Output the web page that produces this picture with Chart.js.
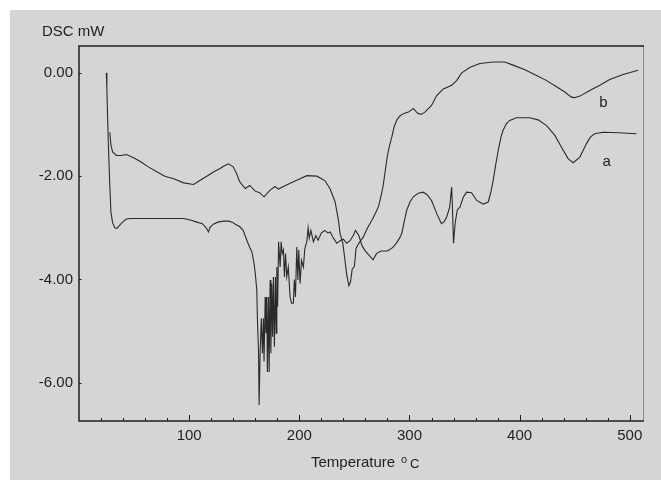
<!DOCTYPE html>
<html>
<head>
<meta charset="utf-8">
<script src="https://cdn.jsdelivr.net/npm/chart.js@4.4.1/dist/chart.umd.min.js"></script>
<style>
  html, body { margin: 0; padding: 0; background: #fff; }
  canvas { display: block; }
</style>
</head>
<body>
<canvas id="dsc" width="661" height="480"></canvas>
<script>
// curve a (lower at the right end)
const tempA = [24.8, 25.3, 26.0, 27.0, 28.0, 29.0, 30.5, 32.5, 34.5, 37.0, 40.0, 43.0, 47.0, 55.0, 65.0, 75.0, 85.0, 95.0,
  101.0, 107.0, 112.0, 115.5, 117.5, 119.0, 122.0, 126.0, 131.0, 136.0, 139.0, 142.0, 146.0, 149.0, 152.0, 155.0, 157.0,
  159.0, 160.0, 161.4, 162.0, 163.0, 163.5, 164.4, 165.5, 166.5, 167.4, 168.0, 169.0, 169.7, 170.5, 171.0, 172.0, 172.6,
  173.5, 174.2, 175.0, 175.8, 176.5, 177.4, 178.3, 179.0, 179.6, 180.3, 181.2, 182.6, 183.5, 184.5, 185.6, 186.5, 187.5,
  188.6, 190.0, 191.6, 193.0, 194.6, 195.5, 196.5, 197.7, 198.7, 199.5, 200.7, 202.0, 203.7, 205.0, 206.8, 208.0, 209.0,
  210.5, 212.8, 215.0, 217.0, 220.0,
  223.0, 226.0, 228.0, 231.0, 234.0, 237.0, 240.0, 243.0, 246.0, 249.0, 251.0, 254.0, 257.0, 260.0, 264.0, 267.0, 270.0,
  274.0, 280.0, 285.0, 288.0, 291.0, 293.0, 295.5, 297.5, 300.5, 303.5, 308.0, 312.5, 316.0, 320.0, 324.7, 329.0, 331.5,
  333.8, 336.5, 338.3, 339.0, 340.0, 341.5, 343.5, 345.8, 349.0, 351.9, 356.4, 361.0, 367.0, 371.5, 374.0, 376.0, 378.5,
  380.6, 383.0, 385.0, 388.0, 391.0, 397.0, 409.0, 416.8, 424.5, 432.0, 438.0, 444.0, 448.6, 454.7, 460.7, 464.0, 468.0,
  475.8, 490.0, 506.0];
const dscA = [0.0, -0.3, -0.9, -1.6, -2.2, -2.7, -2.9, -3.0, -3.01, -2.95, -2.88, -2.83, -2.82, -2.82, -2.82, -2.82, -2.82, -2.82,
  -2.85, -2.89, -2.92, -3.0, -3.08, -2.99, -2.93, -2.89, -2.87, -2.87, -2.89, -2.93, -2.98, -3.05, -3.22, -3.38, -3.47,
  -3.7, -3.88, -4.2, -4.8, -5.4, -6.43, -5.43, -4.75, -5.43, -4.75, -5.59, -4.34, -5.04, -4.34, -5.79, -4.34, -5.79,
  -4.01, -5.43, -4.08, -5.11, -3.95, -5.3, -3.95, -5.04, -3.76, -4.53, -3.27, -3.76, -3.27, -3.5, -3.43, -3.95, -3.5,
  -3.95, -3.76, -4.34, -4.46, -4.46, -4.0, -4.34, -3.37, -4.01, -3.43, -4.08, -3.63, -3.76, -3.4, -3.27, -3.0, -3.2,
  -3.05, -3.27, -3.15, -3.24, -3.1,
  -3.05, -3.1, -3.08, -3.2, -3.3, -3.25, -3.22, -3.3, -3.25, -3.15, -3.05, -3.15, -3.35, -3.45, -3.55, -3.62, -3.5,
  -3.45, -3.45, -3.38, -3.3, -3.2, -3.11, -2.85, -2.66, -2.5, -2.4, -2.33, -2.31, -2.36, -2.47, -2.72, -2.92, -2.88,
  -2.79, -2.6, -2.21, -2.6, -3.3, -2.9, -2.65, -2.6, -2.4, -2.31, -2.32, -2.47, -2.54, -2.5, -2.3, -2.08, -1.75,
  -1.5, -1.25, -1.11, -0.98, -0.92, -0.87, -0.87, -0.91, -1.02, -1.21, -1.44, -1.66, -1.74, -1.63, -1.37, -1.25, -1.18,
  -1.15, -1.16, -1.18];

// curve b (upper at the right end)
const tempB = [28.0, 29.0, 30.5, 34.0, 38.0, 43.0, 50.0, 56.0, 63.0, 71.0, 78.0, 86.0, 95.0, 104.0, 110.0, 116.0, 122.0,
  128.0, 132.0, 135.7, 140.0, 143.0, 146.0, 151.0, 155.0, 160.0, 164.0, 168.0, 173.5, 178.0, 181.0, 185.6, 194.6, 200.7,
  206.8, 216.0, 223.4, 228.0, 232.5, 235.5, 237.0, 239.5, 241.0, 243.0, 245.0, 246.5, 248.0, 250.0, 251.5, 254.0, 258.0,
  262.0, 266.0, 270.0, 272.0, 274.0, 276.0, 278.0, 280.0, 282.0, 284.0, 286.0, 288.4, 291.0, 294.4, 299.0, 303.5, 306.0,
  308.0, 311.0, 314.0, 320.0, 324.7, 330.7, 338.3, 342.8, 347.4, 355.0, 364.0, 376.0, 386.6, 394.0, 404.8, 415.4, 424.5,
  433.5, 441.0, 447.0, 450.0, 454.7, 463.7, 472.8, 481.8, 494.0, 507.5];
const dscB = [-1.15, -1.4, -1.53, -1.6, -1.6, -1.58, -1.65, -1.72, -1.82, -1.92, -2.0, -2.05, -2.13, -2.16, -2.08, -2.0, -1.92,
  -1.85, -1.8, -1.76, -1.82, -1.95, -2.11, -2.24, -2.18, -2.29, -2.32, -2.4, -2.27, -2.2, -2.25, -2.2, -2.11, -2.05,
  -1.99, -2.0, -2.09, -2.25, -2.5, -2.85, -3.11, -3.3, -3.55, -3.9, -4.12, -4.05, -3.8, -3.75, -3.4, -3.3, -3.18,
  -3.0, -2.85, -2.68, -2.58, -2.4, -2.2, -1.9, -1.6, -1.4, -1.24, -1.05, -0.92, -0.84, -0.79, -0.76, -0.69, -0.75,
  -0.79, -0.8, -0.76, -0.63, -0.44, -0.31, -0.24, -0.15, 0.0, 0.11, 0.18, 0.21, 0.21, 0.15, 0.06, -0.05, -0.15,
  -0.27, -0.37, -0.47, -0.48, -0.45, -0.34, -0.24, -0.13, -0.03, 0.05];

const yTicks = [0, -2, -4, -6];
const xLabels = [100, 200, 300, 400, 500];
const curveNames = ['a', 'b'];

const FONT = '"Liberation Sans", Arial, sans-serif';
const INK = '#1f1f1f';

const toPoints = (xs, ys) => xs.map((x, i) => ({ x: x, y: ys[i] }));

const backdrop = {
  id: 'backdrop',
  beforeDraw(chart) {
    const ctx = chart.ctx;
    ctx.save();
    ctx.fillStyle = '#ffffff';
    ctx.fillRect(0, 0, chart.width, chart.height);
    ctx.fillStyle = '#d4d5d7';
    ctx.fillRect(10, 10, chart.width - 10, chart.height - 10);
    ctx.restore();
  }
};

const frame = {
  id: 'frame',
  afterDraw(chart) {
    const ctx = chart.ctx;
    const a = chart.chartArea;
    const xs = chart.scales.x, ys = chart.scales.y;
    ctx.save();
    // right edge is faint in the original
    ctx.strokeStyle = '#8a8a8a';
    ctx.lineWidth = 1;
    ctx.beginPath();
    ctx.moveTo(a.right + 0.5, a.top);
    ctx.lineTo(a.right + 0.5, a.bottom);
    ctx.stroke();

    ctx.strokeStyle = INK;
    ctx.lineWidth = 1.5;
    ctx.beginPath();
    ctx.moveTo(a.right + 1, a.top);
    ctx.lineTo(a.left, a.top);
    ctx.lineTo(a.left, a.bottom);
    ctx.lineTo(a.right + 1, a.bottom);
    ctx.stroke();

    // inward ticks on the temperature axis, every 20
    ctx.lineWidth = 1;
    for (let t = 20; t <= 500; t += 20) {
      const px = Math.round(xs.getPixelForValue(t)) + 0.5;
      const len = t % 100 === 0 ? 6 : 3;
      ctx.beginPath();
      ctx.moveTo(px, a.bottom);
      ctx.lineTo(px, a.bottom - len);
      ctx.stroke();
    }
    yTicks.forEach(v => {
      const py = Math.round(ys.getPixelForValue(v)) + 0.5;
      ctx.beginPath();
      ctx.moveTo(a.left, py);
      ctx.lineTo(a.left + 2.5, py);
      ctx.stroke();
    });

    ctx.fillStyle = INK;
    ctx.textBaseline = 'alphabetic';
    ctx.textAlign = 'left';
    ctx.font = '15px ' + FONT;
    ctx.fillText('DSC mW', 42, 36);

    // axis title with superscript o
    ctx.fillText('Temperature', 311, 467);
    ctx.font = '11px ' + FONT;
    ctx.fillText('o', 401, 463);
    ctx.font = '13px ' + FONT;
    ctx.fillText('C', 410, 468);

    // curve labels
    ctx.font = '15px ' + FONT;
    ctx.textAlign = 'center';
    ctx.textBaseline = 'middle';
    ctx.fillText(curveNames[1], xs.getPixelForValue(476), ys.getPixelForValue(-0.58));
    ctx.fillText(curveNames[0], xs.getPixelForValue(479), ys.getPixelForValue(-1.73));
    ctx.restore();
  }
};

new Chart(document.getElementById('dsc'), {
  type: 'line',
  data: {
    datasets: [
      {
        label: curveNames[0],
        data: toPoints(tempA, dscA),
        borderColor: '#2a2a2a',
        borderWidth: 1.1,
        pointRadius: 0,
        tension: 0
      },
      {
        label: curveNames[1],
        data: toPoints(tempB, dscB),
        borderColor: '#2a2a2a',
        borderWidth: 1.1,
        pointRadius: 0,
        tension: 0
      }
    ]
  },
  options: {
    responsive: false,
    animation: false,
    devicePixelRatio: 1,
    layout: { padding: { top: 46, right: 18, left: 0, bottom: 0 } },
    plugins: { legend: { display: false }, tooltip: { enabled: false } },
    scales: {
      x: {
        type: 'linear',
        min: 0,
        max: 512,
        grid: { display: false, drawTicks: false },
        border: { display: false },
        ticks: {
          stepSize: 100,
          includeBounds: false,
          autoSkip: false,
          maxRotation: 0,
          padding: 6,
          color: INK,
          font: { family: FONT, size: 15 },
          callback: v => xLabels.includes(v) ? String(v) : ''
        },
        afterFit: s => { s.height = 59; }
      },
      y: {
        min: -6.74,
        max: 0.52,
        grid: { display: false, drawTicks: false },
        border: { display: false },
        ticks: {
          stepSize: 2,
          includeBounds: false,
          padding: 6,
          color: INK,
          font: { family: FONT, size: 15 },
          callback: v => yTicks.includes(v) ? v.toFixed(2) : ''
        },
        afterFit: s => { s.width = 79; }
      }
    }
  },
  plugins: [backdrop, frame]
});
</script>
</body>
</html>
